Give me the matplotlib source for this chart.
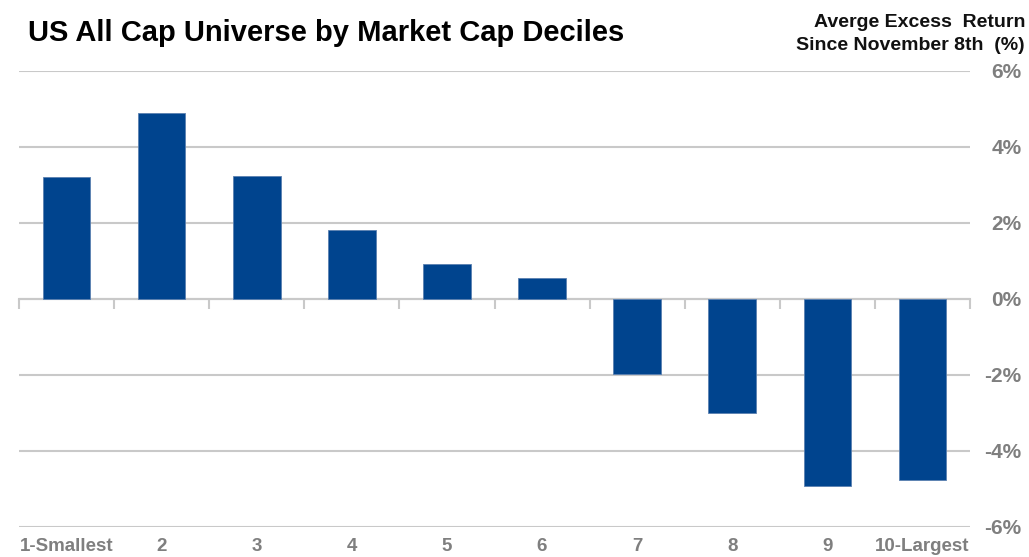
import matplotlib

matplotlib.use("Agg")
import matplotlib.pyplot as plt
import numpy as np
from matplotlib.ticker import FuncFormatter

plt.rcParams["font.family"] = ["Liberation Sans", "DejaVu Sans"]

deciles = ["1-Smallest", "2", "3", "4", "5", "6", "7", "8", "9", "10-Largest"]
excess_return = [3.22, 4.90, 3.25, 1.82, 0.92, 0.55, -1.98, -3.00, -4.93, -4.77]
y_ticks = [-6, -4, -2, 0, 2, 4, 6]

BAR = "#00448e"
GRID = "#c9c9c9"
LABEL = "#7f7f7f"

fig = plt.figure(figsize=(10.29, 5.57), dpi=100)
ax = fig.add_axes([19 / 1029, 30 / 557, 951 / 1029, 456 / 557])

x = np.arange(len(deciles))
ax.bar(x, excess_return, width=0.5, color=BAR, edgecolor="#5a80b0", linewidth=0.6, zorder=3)

ax.set_xlim(-0.5, len(deciles) - 0.5)
ax.set_ylim(-6, 6)
ax.set_yticks(y_ticks)
ax.yaxis.set_major_formatter(FuncFormatter(lambda v, _: f"{v:.0f}%"))
ax.yaxis.tick_right()
ax.tick_params(axis="y", length=0, pad=37, labelsize=15, labelcolor=LABEL)
for lbl in ax.get_yticklabels():
    lbl.set_fontweight("bold")
    lbl.set_horizontalalignment("right")
ax.grid(axis="y", color=GRID, linewidth=1.5, zorder=0)

ax.set_xticks(x)
ax.set_xticklabels(deciles, fontsize=13.5, fontweight="bold", color=LABEL)
ax.tick_params(axis="x", length=0, pad=8)
for side in ["top", "bottom", "left", "right"]:
    ax.spines[side].set_visible(False)

# zero line with category separators hanging below it
zero = ax.secondary_xaxis(0.5)
zero.set_xticks(np.arange(len(deciles) + 1) - 0.5)
zero.set_xticklabels([])
zero.xaxis.set_ticks_position("bottom")
zero.tick_params(axis="x", which="both", direction="out", length=7, width=1.5,
                 color=GRID, top=False, bottom=True)
for spine in zero.spines.values():
    spine.set_color(GRID)
    spine.set_linewidth(1.5)
zero.set_zorder(2)

fig.text(28 / 1029, 1 - 33 / 557, "US All Cap Universe by Market Cap Deciles",
         fontsize=21, fontweight="bold", color="black", va="center", ha="left")
fig.text(1025 / 1029, 1 - 34 / 557, "Averge Excess  Return\nSince November 8th  (%)",
         fontsize=14, fontweight="bold", color="#111111", va="center", ha="right",
         linespacing=1.45, multialignment="right")

fig.savefig("out.png", dpi=100)
